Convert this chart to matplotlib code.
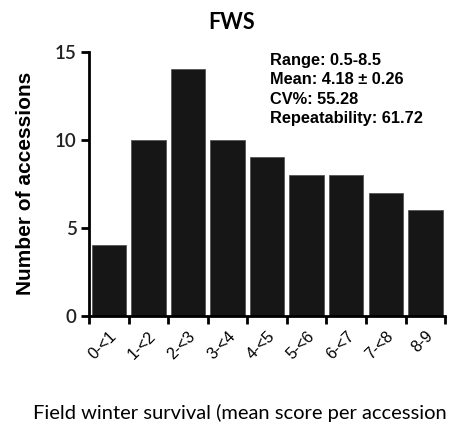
import matplotlib
matplotlib.use("Agg")
import matplotlib.pyplot as plt

categories = ["0-<1", "1-<2", "2-<3", "3-<4", "4-<5", "5-<6", "6-<7", "7-<8", "8-9"]
counts = [4, 10, 14, 10, 9, 8, 8, 7, 6]
yticks = [0, 5, 10, 15]
stats_lines = ["Range: 0.5-8.5", "Mean: 4.18 \u00b1 0.26", "CV%: 55.28", "Repeatability: 61.72"]

fig = plt.figure(figsize=(4.52, 4.28), dpi=100)
ax = fig.add_axes([0.197, 0.262, 0.788, 0.617])

x = list(range(len(categories)))
ax.bar(x, counts, width=0.87, color="#161616", edgecolor="#555555", linewidth=0.6, zorder=2)

ax.set_xlim(-0.5, len(categories) - 0.5)
ax.set_ylim(0, 15)
ax.set_yticks(yticks)
ax.set_yticklabels([str(v) for v in yticks], fontfamily="Lato", fontweight="semibold", fontsize=13.5, color="#222222")

# major ticks at bin boundaries, labels centered under bars
ax.set_xticks([i - 0.5 for i in range(len(categories) + 1)])
ax.set_xticklabels([])
ax.set_xticks(x, minor=True)
ax.set_xticklabels(categories, minor=True, rotation=45, ha="right", va="top",
                   rotation_mode="anchor", fontfamily="Liberation Sans", fontsize=11.5)
ax.tick_params(axis="x", which="minor", length=0, pad=9)
ax.tick_params(axis="x", which="major", length=6, width=2, direction="out")
ax.tick_params(axis="y", which="major", length=6, width=2, direction="out", pad=3)

for s in ["top", "right"]:
    ax.spines[s].set_visible(False)
for s in ["left", "bottom"]:
    ax.spines[s].set_linewidth(2)

ax.set_ylabel("Number of accessions", fontfamily="Liberation Sans", fontweight="bold", fontsize=15, labelpad=14)

fig.text(0.513, 0.948, "FWS", ha="center", va="center", fontfamily="Lato", fontweight="bold", fontsize=15.5)
fig.text(0.530, 0.035, "Field winter survival (mean score per accession", ha="center", va="center",
         fontfamily="Lato", fontsize=14.5)

for i, line in enumerate(stats_lines):
    fig.text(0.597, 1 - (61 + i * 19) / 428, line, ha="left", va="center",
             fontfamily="Liberation Sans", fontweight="bold", fontsize=11.8)

fig.savefig("out.png", dpi=100)
